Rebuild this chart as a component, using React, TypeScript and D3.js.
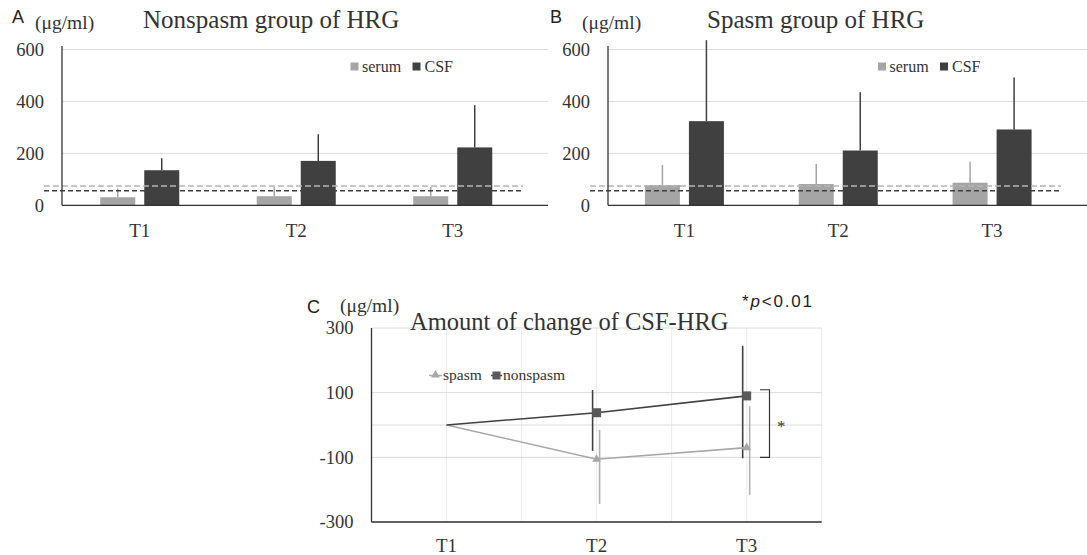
import React from "react";
import * as d3 from "d3";

// values (µg/ml)
const categories = ["T1", "T2", "T3"];
const yTicksAB = [0, 200, 400, 600];
const yTicksC = [-300, -100, 100, 300];

const nonspasmSerum = [31, 35, 35];
const nonspasmSerumSD = [34, 36, 35];
const nonspasmCsf = [135, 171, 223];
const nonspasmCsfSD = [46, 103, 162];

const spasmSerum = [78, 82, 87];
const spasmSerumSD = [77, 77, 81];
const spasmCsf = [324, 211, 292];
const spasmCsfSD = [312, 224, 200];

// cut-off lines drawn dashed
const refLight = 74;
const refDark = 56;

// change of CSF-HRG from T1
const changeSpasm = [0, -106, -70];
const changeSpasmHi = [null, -15, 58];
const changeSpasmLo = [null, -244, -216];
const changeNonspasm = [0, 38, 90];
const changeNonspasmHi = [null, 108, 245];
const changeNonspasmLo = [null, -80, -103];
const bracketRange = [109, -100];

const SERIF = "'Liberation Serif', 'DejaVu Serif', serif";
const SANS = "'Liberation Sans', Arial, sans-serif";
const DARK = "#404040";
const LIGHT = "#a5a5a5";
const GRID = "#dcdcdc";

type BarPanelProps = {
  letter: string;
  title: string;
  axisX: number;
  bandRight: number;
  plotRight: number;
  serum: number[];
  serumSD: number[];
  csf: number[];
  csfSD: number[];
  letterX: number;
  unitX: number;
  titleX: number;
  legendX: number;
};

function BarPanel(p: BarPanelProps) {
  const y = d3.scaleLinear().domain([0, 600]).range([205.3, 49.5]);
  const x = d3.scaleBand<string>().domain(categories).range([p.axisX - 0.5, p.bandRight]);
  const bw = 35;
  const gap = 9;
  return (
    <g>
      <text x={p.letterX} y={23} fontFamily={SANS} fontSize={18} fill="#222">{p.letter}</text>
      <text x={p.unitX} y={29} fontFamily={SERIF} fontSize={19.5} fill="#333">(μg/ml)</text>
      <text x={p.titleX} y={28} fontFamily={SERIF} fontSize={25} fill="#333">{p.title}</text>
      {yTicksAB.map((t) => (
        <g key={t}>
          {t > 0 && <line x1={p.axisX} x2={p.plotRight} y1={y(t)} y2={y(t)} stroke={GRID} strokeWidth={1} />}
          <text x={p.axisX - 18} y={y(t)} dy="0.35em" textAnchor="end" fontFamily={SERIF} fontSize={18.5} fill="#333">{t}</text>
        </g>
      ))}
      {categories.map((c, i) => {
        const cx = (x(c) as number) + x.bandwidth() / 2;
        const sx = cx - gap / 2 - bw;
        const kx = cx + gap / 2;
        return (
          <g key={c}>
            <rect x={sx} y={y(p.serum[i])} width={bw} height={y(0) - y(p.serum[i])} fill={LIGHT} />
            <line x1={sx + bw / 2} x2={sx + bw / 2} y1={y(p.serum[i])} y2={y(p.serum[i] + p.serumSD[i])} stroke={LIGHT} strokeWidth={1.5} />
            <rect x={kx} y={y(p.csf[i])} width={bw} height={y(0) - y(p.csf[i])} fill={DARK} />
            <line x1={kx + bw / 2} x2={kx + bw / 2} y1={y(p.csf[i])} y2={y(p.csf[i] + p.csfSD[i])} stroke={DARK} strokeWidth={1.5} />
            <text x={cx} y={237} textAnchor="middle" fontFamily={SERIF} fontSize={19} fill="#333">{c}</text>
          </g>
        );
      })}
      <line x1={p.axisX - 18} x2={p.bandRight - 8} y1={y(refLight)} y2={y(refLight)} stroke="#b5b5b5" strokeWidth={1.5} strokeDasharray="6,3" />
      <line x1={p.axisX - 18} x2={p.bandRight - 8} y1={y(refDark)} y2={y(refDark)} stroke={DARK} strokeWidth={1.5} strokeDasharray="5,3" />
      <line x1={p.axisX} x2={p.axisX} y1={46} y2={y(0)} stroke="#333" strokeWidth={1.3} />
      <line x1={p.axisX} x2={p.plotRight} y1={y(0)} y2={y(0)} stroke="#333" strokeWidth={1.3} />
      <rect x={p.legendX} y={62.5} width={8} height={8} fill={LIGHT} />
      <text x={p.legendX + 11.5} y={72} fontFamily={SERIF} fontSize={16} fill="#333">serum</text>
      <rect x={p.legendX + 62} y={62.5} width={8} height={8} fill={DARK} />
      <text x={p.legendX + 74} y={72} fontFamily={SERIF} fontSize={16} fill="#333">CSF</text>
    </g>
  );
}

function ChangePanel() {
  const left = 371.5;
  const right = 821.7;
  const y = d3.scaleLinear().domain([-300, 300]).range([522, 328]);
  const x = d3.scaleBand<string>().domain(categories).range([left, right]);
  const cx = (c: string) => (x(c) as number) + x.bandwidth() / 2;
  const vGrid = d3.range(0, 7).map((k) => left + (k * (right - left)) / 6).slice(1);
  const line = d3.line<number>().x((_, i) => cx(categories[i])).y((d) => y(d));
  const tri = d3.symbol(d3.symbolTriangle, 34);
  return (
    <g>
      <text x={307} y={313} fontFamily={SANS} fontSize={18} fill="#222">C</text>
      <text x={340} y={312} fontFamily={SERIF} fontSize={19.5} fill="#333">(μg/ml)</text>
      {vGrid.map((gx, i) => (
        <line key={i} x1={gx} x2={gx} y1={y(300)} y2={y(-300)} stroke="#ececec" strokeWidth={1} />
      ))}
      {[...yTicksC, 0].map((t) => (
        <line key={"g" + t} x1={left} x2={right} y1={y(t)} y2={y(t)} stroke={GRID} strokeWidth={1} />
      ))}
      {yTicksC.map((t) => (
        <text key={t} x={left - 18} y={y(t)} dy="0.35em" textAnchor="end" fontFamily={SERIF} fontSize={18.5} fill="#333">{t}</text>
      ))}
      <text x={410} y={330} fontFamily={SERIF} fontSize={24.5} fill="#333">Amount of change of CSF-HRG</text>
      <text x={742} y={307} fontFamily={SANS} fontSize={17} fill="#222" textLength={70} lengthAdjust="spacing">
        *<tspan fontStyle="italic">p</tspan>{"<0.01"}
      </text>
      {/* error bars */}
      {categories.map((c, i) =>
        changeNonspasmHi[i] == null ? null : (
          <g key={"e" + c}>
            <line x1={cx(c) - 4} x2={cx(c) - 4} y1={y(changeNonspasmHi[i] as number)} y2={y(changeNonspasmLo[i] as number)} stroke={DARK} strokeWidth={1.6} />
            <line x1={cx(c) + 3} x2={cx(c) + 3} y1={y(changeSpasmHi[i] as number)} y2={y(changeSpasmLo[i] as number)} stroke="#b0b0b0" strokeWidth={1.6} />
          </g>
        )
      )}
      <path d={line(changeSpasm) || ""} fill="none" stroke="#a8a8a8" strokeWidth={1.6} />
      <path d={line(changeNonspasm) || ""} fill="none" stroke={DARK} strokeWidth={1.6} />
      {categories.map((c, i) =>
        i === 0 ? null : (
          <g key={"m" + c}>
            <rect x={cx(c) - 4.5} y={y(changeNonspasm[i]) - 4.5} width={9} height={9} fill="#5a5a5a" />
            <path d={tri() || ""} transform={`translate(${cx(c)},${y(changeSpasm[i])})`} fill="#a8a8a8" />
          </g>
        )
      )}
      {/* significance bracket */}
      <path
        d={`M760,${y(bracketRange[0])}H769.5V${y(bracketRange[1])}H760`}
        fill="none"
        stroke="#333"
        strokeWidth={1.2}
      />
      <text x={777} y={(y(bracketRange[0]) + y(bracketRange[1])) / 2 + 8} fontFamily={SERIF} fontSize={17} fill="#333">*</text>
      {/* legend */}
      <line x1={429} x2={442} y1={375.5} y2={375.5} stroke="#a8a8a8" strokeWidth={1.5} />
      <path d={tri() || ""} transform="translate(435.5,375)" fill="#a8a8a8" />
      <text x={443} y={380} fontFamily={SERIF} fontSize={15.5} fill="#333">spasm</text>
      <line x1={491} x2={502} y1={375.5} y2={375.5} stroke={DARK} strokeWidth={1.5} />
      <rect x={492.5} y={371.5} width={8} height={8} fill="#5a5a5a" />
      <text x={503} y={380} fontFamily={SERIF} fontSize={15.5} fill="#333">nonspasm</text>
      <line x1={left} x2={left} y1={y(300)} y2={y(-300)} stroke="#333" strokeWidth={1.3} />
      <line x1={left} x2={right} y1={y(-300)} y2={y(-300)} stroke="#333" strokeWidth={1.3} />
      {categories.map((c) => (
        <text key={"x" + c} x={cx(c)} y={552} textAnchor="middle" fontFamily={SERIF} fontSize={19} fill="#333">{c}</text>
      ))}
    </g>
  );
}

export default function App() {
  return (
    <svg width={1087} height={555} style={{ position: "absolute", left: 0, top: 0, background: "#fff" }}>
      <rect width={1087} height={555} fill="#fff" />
      <BarPanel
        letter="A"
        title="Nonspasm group of HRG"
        axisX={62}
        bandRight={531}
        plotRight={548}
        serum={nonspasmSerum}
        serumSD={nonspasmSerumSD}
        csf={nonspasmCsf}
        csfSD={nonspasmCsfSD}
        letterX={12}
        unitX={35}
        titleX={143}
        legendX={350.5}
      />
      <BarPanel
        letter="B"
        title="Spasm group of HRG"
        axisX={608}
        bandRight={1069}
        plotRight={1087}
        serum={spasmSerum}
        serumSD={spasmSerumSD}
        csf={spasmCsf}
        csfSD={spasmCsfSD}
        letterX={550}
        unitX={582}
        titleX={707}
        legendX={878}
      />
      <ChangePanel />
    </svg>
  );
}
